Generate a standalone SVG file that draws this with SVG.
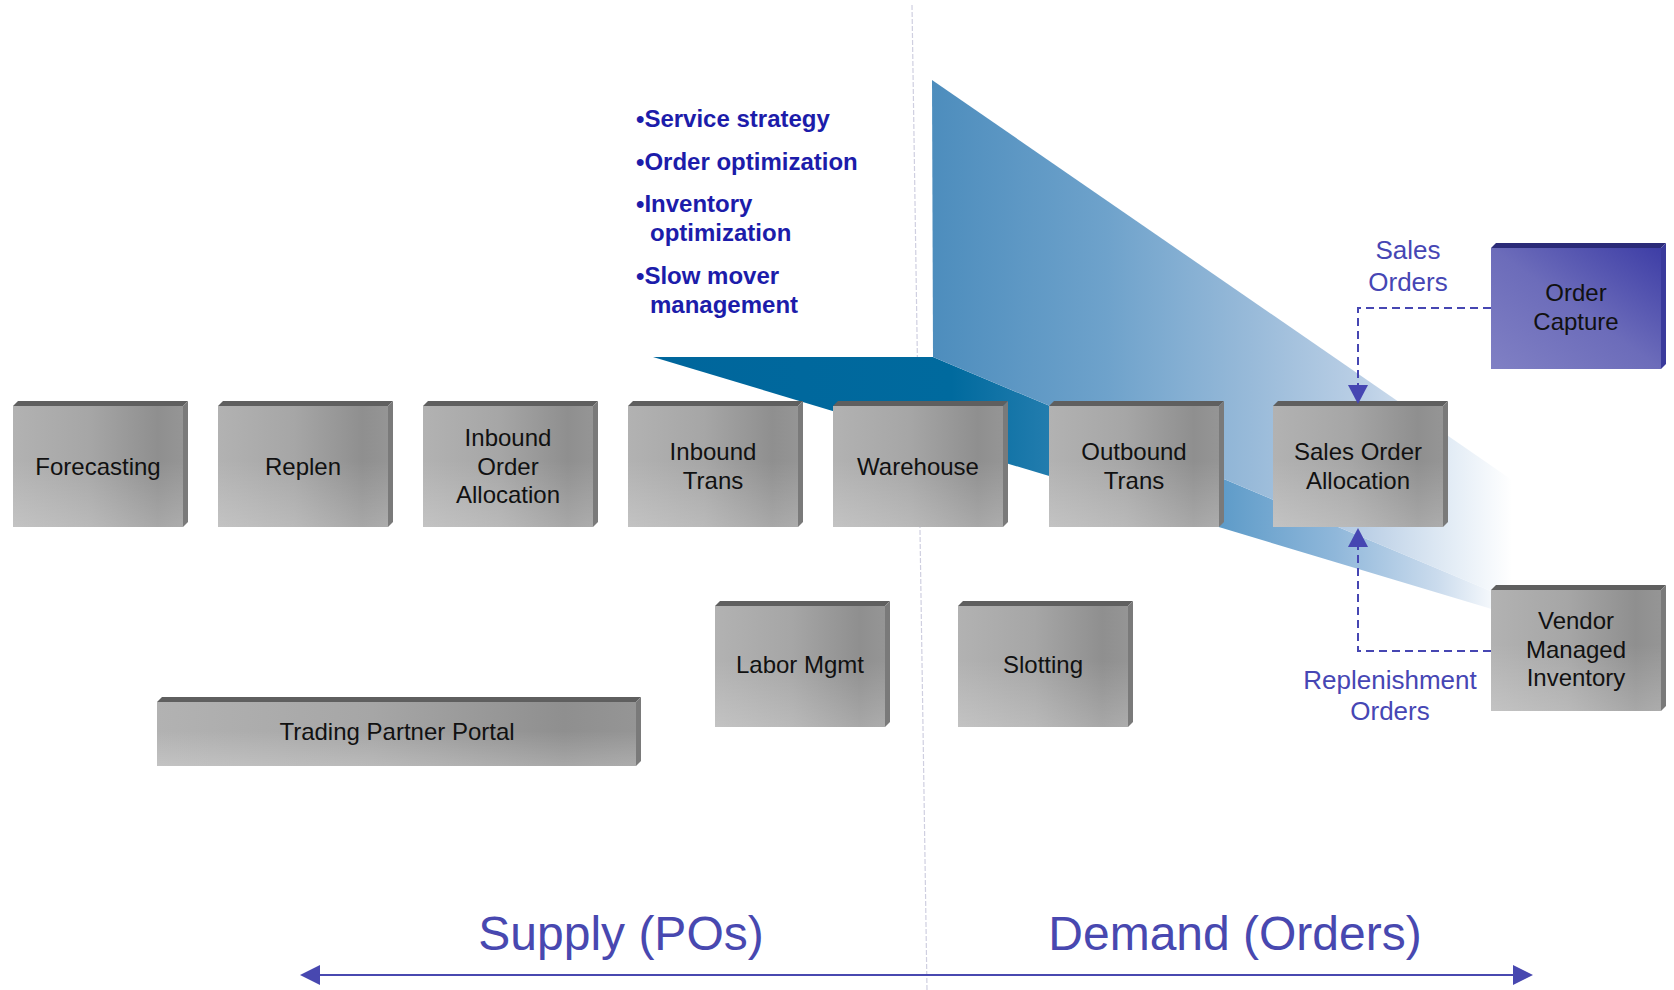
<svg xmlns="http://www.w3.org/2000/svg" width="1674" height="990" viewBox="0 0 1674 990">
<defs>
<linearGradient id="gFront" x1="0" y1="0" x2="1" y2="0">
<stop offset="0" stop-color="#b2b2b2"/>
<stop offset="0.45" stop-color="#a6a6a6"/>
<stop offset="0.85" stop-color="#8f8f8f"/>
<stop offset="1" stop-color="#959595"/>
</linearGradient>
<linearGradient id="gShade" x1="0" y1="0" x2="0" y2="1">
<stop offset="0" stop-color="#ffffff" stop-opacity="0"/>
<stop offset="0.45" stop-color="#ffffff" stop-opacity="0"/>
<stop offset="1" stop-color="#ffffff" stop-opacity="0.22"/>
</linearGradient>
<linearGradient id="gBlueFront" x1="0" y1="1" x2="1" y2="0">
<stop offset="0" stop-color="#8080c4"/>
<stop offset="0.5" stop-color="#6c6cba"/>
<stop offset="1" stop-color="#3e3ea6"/>
</linearGradient>
<linearGradient id="gFace" gradientUnits="userSpaceOnUse" x1="932" y1="0" x2="1512" y2="0">
<stop offset="0" stop-color="#4d8dbd"/>
<stop offset="0.3" stop-color="#6ea2cb"/>
<stop offset="0.55" stop-color="#98bad9"/>
<stop offset="0.75" stop-color="#bcd0e6"/>
<stop offset="0.9" stop-color="#e4edf6"/>
<stop offset="1" stop-color="#ffffff"/>
</linearGradient>
<linearGradient id="gFloor" gradientUnits="userSpaceOnUse" x1="653" y1="0" x2="1505" y2="0">
<stop offset="0" stop-color="#00669c"/>
<stop offset="0.35" stop-color="#006a9e"/>
<stop offset="0.45" stop-color="#1e7aac"/>
<stop offset="0.67" stop-color="#5f9cc9"/>
<stop offset="0.8" stop-color="#8fb7da"/>
<stop offset="0.92" stop-color="#cadbed"/>
<stop offset="1" stop-color="#ffffff"/>
</linearGradient>
</defs>
<style>
.top{fill:#5f5f5f}
.side{fill:#7a7a7a}
.front{fill:url(#gFront)}
.shade{fill:url(#gShade)}
.btop{fill:#2b2b78}
.bside{fill:#3a3a9c}
.bfront{fill:url(#gBlueFront)}
.lbl{font-family:"Liberation Sans",Arial,sans-serif;font-size:24px;fill:#111111;text-anchor:middle}
.bul{font-family:"Liberation Sans",Arial,sans-serif;font-size:24px;font-weight:bold;fill:#1c1caa}
.flow{font-family:"Liberation Sans",Arial,sans-serif;font-size:26px;fill:#4646b4;text-anchor:middle}
.axis{font-family:"Liberation Sans",Arial,sans-serif;font-size:48px;fill:#4848b0;text-anchor:middle}
.dash{fill:none;stroke:#4646b2;stroke-width:2;stroke-dasharray:8 5}
</style>
<rect x="0" y="0" width="1674" height="990" fill="#ffffff"/>

<g id="divider">
<line x1="912" y1="5" x2="927" y2="990" stroke="#cfcfe0" stroke-width="1.2" stroke-dasharray="5 2"/>
</g>

<g id="wedge">
<polygon points="653,357 933,357 1505,597 1505,613" fill="url(#gFloor)"/>
<polygon points="932,80 1512,480 1512,600 933,357" fill="url(#gFace)"/>
</g>

<g id="bullets">
<text class="bul" x="636" y="127">•Service strategy</text>
<text class="bul" x="636" y="170">•Order optimization</text>
<text class="bul" x="636" y="212">•Inventory</text>
<text class="bul" x="650" y="241">optimization</text>
<text class="bul" x="636" y="284">•Slow mover</text>
<text class="bul" x="650" y="313">management</text>
</g>

<g id="forecasting" transform="translate(13,401)">
<polygon class="top" points="0,5 5,0 175,0 170,5"/>
<polygon class="side" points="170,5 175,0 175,121 170,126"/>
<rect class="front" x="0" y="5" width="170" height="121"/>
<rect class="shade" x="0" y="5" width="170" height="121"/>
<text class="lbl" x="85" y="74">Forecasting</text>
</g>

<g id="replen" transform="translate(218,401)">
<polygon class="top" points="0,5 5,0 175,0 170,5"/>
<polygon class="side" points="170,5 175,0 175,121 170,126"/>
<rect class="front" x="0" y="5" width="170" height="121"/>
<rect class="shade" x="0" y="5" width="170" height="121"/>
<text class="lbl" x="85" y="74">Replen</text>
</g>

<g id="inbound-order-allocation" transform="translate(423,401)">
<polygon class="top" points="0,5 5,0 175,0 170,5"/>
<polygon class="side" points="170,5 175,0 175,121 170,126"/>
<rect class="front" x="0" y="5" width="170" height="121"/>
<rect class="shade" x="0" y="5" width="170" height="121"/>
<text class="lbl" x="85" y="45">Inbound</text>
<text class="lbl" x="85" y="74">Order</text>
<text class="lbl" x="85" y="102">Allocation</text>
</g>

<g id="inbound-trans" transform="translate(628,401)">
<polygon class="top" points="0,5 5,0 175,0 170,5"/>
<polygon class="side" points="170,5 175,0 175,121 170,126"/>
<rect class="front" x="0" y="5" width="170" height="121"/>
<rect class="shade" x="0" y="5" width="170" height="121"/>
<text class="lbl" x="85" y="59">Inbound</text>
<text class="lbl" x="85" y="88">Trans</text>
</g>

<g id="warehouse" transform="translate(833,401)">
<polygon class="top" points="0,5 5,0 175,0 170,5"/>
<polygon class="side" points="170,5 175,0 175,121 170,126"/>
<rect class="front" x="0" y="5" width="170" height="121"/>
<rect class="shade" x="0" y="5" width="170" height="121"/>
<text class="lbl" x="85" y="74">Warehouse</text>
</g>

<g id="outbound-trans" transform="translate(1049,401)">
<polygon class="top" points="0,5 5,0 175,0 170,5"/>
<polygon class="side" points="170,5 175,0 175,121 170,126"/>
<rect class="front" x="0" y="5" width="170" height="121"/>
<rect class="shade" x="0" y="5" width="170" height="121"/>
<text class="lbl" x="85" y="59">Outbound</text>
<text class="lbl" x="85" y="88">Trans</text>
</g>

<g id="sales-order-allocation" transform="translate(1273,401)">
<polygon class="top" points="0,5 5,0 175,0 170,5"/>
<polygon class="side" points="170,5 175,0 175,121 170,126"/>
<rect class="front" x="0" y="5" width="170" height="121"/>
<rect class="shade" x="0" y="5" width="170" height="121"/>
<text class="lbl" x="85" y="59">Sales Order</text>
<text class="lbl" x="85" y="88">Allocation</text>
</g>

<g id="order-capture" transform="translate(1491,243)">
<polygon class="btop" points="0,5 5,0 175,0 170,5"/>
<polygon class="bside" points="170,5 175,0 175,121 170,126"/>
<rect class="bfront" x="0" y="5" width="170" height="121"/>
<text class="lbl" x="85" y="58">Order</text>
<text class="lbl" x="85" y="87">Capture</text>
</g>

<g id="vendor-managed-inventory" transform="translate(1491,585)">
<polygon class="top" points="0,5 5,0 175,0 170,5"/>
<polygon class="side" points="170,5 175,0 175,121 170,126"/>
<rect class="front" x="0" y="5" width="170" height="121"/>
<rect class="shade" x="0" y="5" width="170" height="121"/>
<text class="lbl" x="85" y="44">Vendor</text>
<text class="lbl" x="85" y="72.5">Managed</text>
<text class="lbl" x="85" y="101">Inventory</text>
</g>

<g id="labor-mgmt" transform="translate(715,601)">
<polygon class="top" points="0,5 5,0 175,0 170,5"/>
<polygon class="side" points="170,5 175,0 175,121 170,126"/>
<rect class="front" x="0" y="5" width="170" height="121"/>
<rect class="shade" x="0" y="5" width="170" height="121"/>
<text class="lbl" x="85" y="72">Labor Mgmt</text>
</g>

<g id="slotting" transform="translate(958,601)">
<polygon class="top" points="0,5 5,0 175,0 170,5"/>
<polygon class="side" points="170,5 175,0 175,121 170,126"/>
<rect class="front" x="0" y="5" width="170" height="121"/>
<rect class="shade" x="0" y="5" width="170" height="121"/>
<text class="lbl" x="85" y="72">Slotting</text>
</g>

<g id="trading-partner-portal" transform="translate(157,697)">
<polygon class="top" points="0,5 5,0 484,0 479,5"/>
<polygon class="side" points="479,5 484,0 484,64 479,69"/>
<rect class="front" x="0" y="5" width="479" height="64"/>
<rect class="shade" x="0" y="5" width="479" height="64"/>
<text class="lbl" x="240" y="43">Trading Partner Portal</text>
</g>

<g id="connectors">
<path class="dash" d="M1491,308 H1358 V386"/>
<path d="M1348,385 L1368,385 L1358,404 Z" fill="#4646b2"/>
<path class="dash" d="M1491,651 H1358 V546"/>
<path d="M1348,547 L1368,547 L1358,528 Z" fill="#4646b2"/>
<line x1="320" y1="975" x2="1513" y2="975" stroke="#4848b0" stroke-width="2.2"/>
<path d="M300,975 L320,965 L320,985 Z" fill="#4848b0"/>
<path d="M1533,975 L1513,965 L1513,985 Z" fill="#4848b0"/>
</g>

<g id="labels">
<text class="flow" x="1408" y="259">Sales</text>
<text class="flow" x="1408" y="291">Orders</text>
<text class="flow" x="1390" y="689">Replenishment</text>
<text class="flow" x="1390" y="720">Orders</text>
<text class="axis" x="621" y="950">Supply (POs)</text>
<text class="axis" x="1235" y="950">Demand (Orders)</text>
</g>
</svg>
